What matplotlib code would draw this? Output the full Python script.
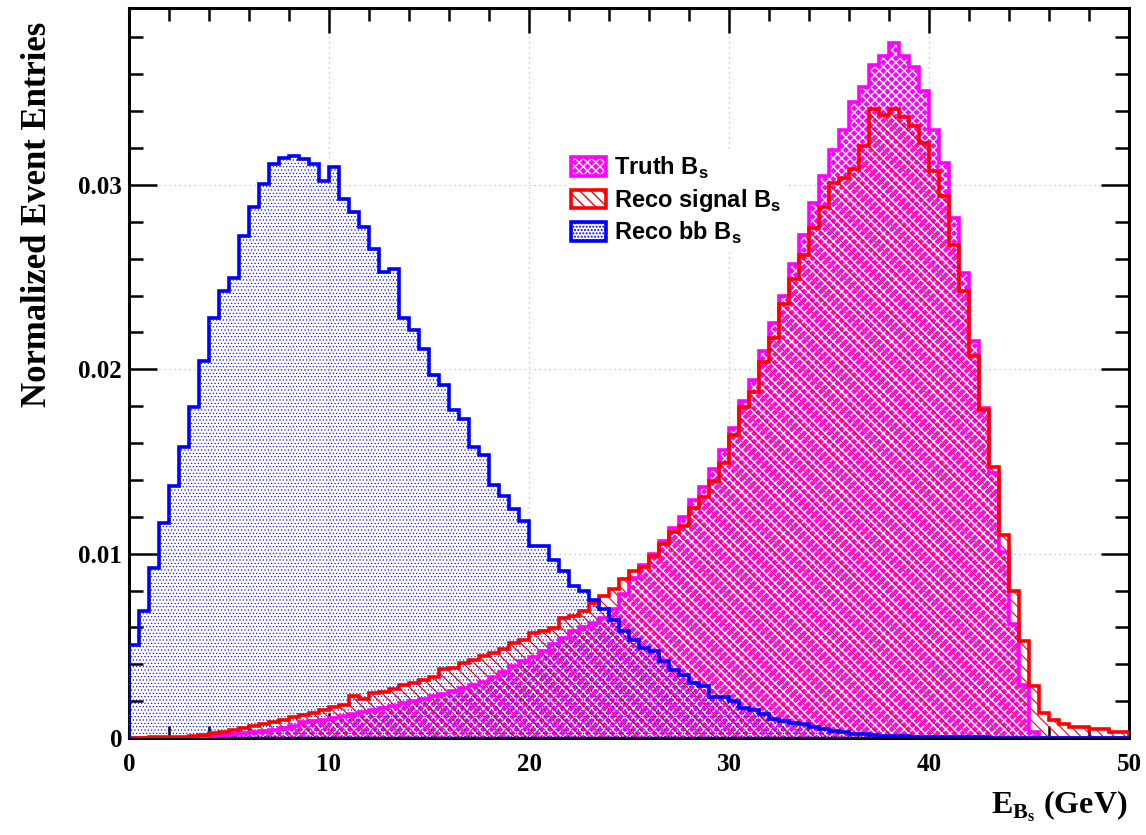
import numpy as np
import matplotlib
matplotlib.use("Agg")
import matplotlib.pyplot as plt
from matplotlib.patches import Patch
from matplotlib.legend_handler import HandlerTuple
from matplotlib.ticker import MultipleLocator, FuncFormatter

# 100 bins of 0.5 GeV between 0 and 50 GeV
bin_edges = np.linspace(0.0, 50.0, 101)

# Reco bb B_s
reco_bb = [0.00502, 0.00689, 0.00921, 0.01166, 0.01365, 0.01581, 0.01797, 0.02046, 0.02278, 0.02423,
           0.02494, 0.02722, 0.02878, 0.03004, 0.03116, 0.03145, 0.03158, 0.03141, 0.03112, 0.03021,
           0.03100, 0.02923, 0.02855, 0.02772, 0.02654, 0.02529, 0.02544, 0.02280, 0.02214, 0.02108,
           0.01969, 0.01913, 0.01782, 0.01730, 0.01581, 0.01533, 0.01373, 0.01311, 0.01243, 0.01176,
           0.01039, 0.01039, 0.00963, 0.00905, 0.00822, 0.00797, 0.00749, 0.00700, 0.00640, 0.00580,
           0.00530, 0.00490, 0.00470, 0.00420, 0.00370, 0.00340, 0.00300, 0.00280, 0.00225, 0.00220,
           0.00200, 0.00165, 0.00150, 0.00130, 0.00105, 0.00092, 0.00082, 0.00078, 0.00060, 0.00050,
           0.00040, 0.00030, 0.00022, 0.00020, 0.00016, 0.00013, 0.00010, 0.00009, 0.00008, 0.00006,
           0.00005, 0.00004, 0.00004, 0.00003, 0.00003, 0.00003, 0.00002, 0.00002, 0.00002, 0.00002,
           0.00001, 0.00001, 0.00001, 0.00001, 0.00001, 0.00001, 0.00001, 0.00001, 0.00001, 0.00001]

# Reco signal B_s
reco_signal = [0.00002, 0.00002, 0.00003, 0.00003, 0.00006, 0.00008, 0.00011, 0.00016, 0.00025, 0.00034,
               0.00043, 0.00053, 0.00065, 0.00076, 0.00089, 0.00098, 0.00112, 0.00125, 0.00134, 0.00152,
               0.00167, 0.00179, 0.00228, 0.00210, 0.00243, 0.00252, 0.00264, 0.00288, 0.00301, 0.00315,
               0.00333, 0.00373, 0.00379, 0.00406, 0.00424, 0.00446, 0.00460, 0.00484, 0.00514, 0.00533,
               0.00569, 0.00578, 0.00596, 0.00650, 0.00663, 0.00687, 0.00732, 0.00768, 0.00810, 0.00860,
               0.00905, 0.00930, 0.00988, 0.01055, 0.01115, 0.01150, 0.01250, 0.01305, 0.01395, 0.01490,
               0.01646, 0.01793, 0.01878, 0.02037, 0.02171, 0.02354, 0.02488, 0.02622, 0.02768, 0.02878,
               0.03012, 0.03040, 0.03088, 0.03211, 0.03412, 0.03382, 0.03412, 0.03370, 0.03321, 0.03230,
               0.03076, 0.02941, 0.02672, 0.02426, 0.02071, 0.01777, 0.01471, 0.01103, 0.00797, 0.00527,
               0.00282, 0.00135, 0.00098, 0.00074, 0.00061, 0.00061, 0.00049, 0.00049, 0.00035, 0.00032]

# Truth B_s
truth = [0.0, 0.0, 0.0, 0.0, 0.0, 0.0, 0.00003, 0.00006, 0.00010, 0.00014,
         0.00019, 0.00025, 0.00031, 0.00038, 0.00046, 0.00055, 0.00065, 0.00085, 0.00094, 0.00100,
         0.00108, 0.00118, 0.00128, 0.00140, 0.00152, 0.00163, 0.00175, 0.00190, 0.00203, 0.00214,
         0.00228, 0.00240, 0.00255, 0.00270, 0.00288, 0.00305, 0.00330, 0.00358, 0.00390, 0.00418,
         0.00442, 0.00470, 0.00510, 0.00540, 0.00580, 0.00600, 0.00625, 0.00650, 0.00700, 0.00780,
         0.00870, 0.00940, 0.01000, 0.01070, 0.01140, 0.01200, 0.01290, 0.01360, 0.01460, 0.01560,
         0.01680, 0.01830, 0.01940, 0.02100, 0.02250, 0.02400, 0.02570, 0.02730, 0.02900, 0.03050,
         0.03190, 0.03300, 0.03450, 0.03530, 0.03650, 0.03700, 0.03770, 0.03700, 0.03640, 0.03510,
         0.03300, 0.03120, 0.02820, 0.02525, 0.02152, 0.01790, 0.01440, 0.01010, 0.00620, 0.00290,
         0.00030, 0.0, 0.0, 0.0, 0.0, 0.0, 0.0, 0.0, 0.0, 0.0]

labels = ['Truth B$_\\mathregular{s}$', 'Reco signal B$_\\mathregular{s}$', 'Reco bb B$_\\mathregular{s}$']

plt.rcParams['mathtext.fontset'] = 'custom'
plt.rcParams['mathtext.rm'] = 'Liberation Serif:bold'
plt.rcParams['mathtext.bf'] = 'Liberation Serif:bold'

fig = plt.figure(figsize=(11.46, 8.35), dpi=100)
ax = fig.add_axes([129 / 1146, 97 / 835, 1000 / 1146, 730 / 835])

lw = 2.6
truth_hatch = 'xxxx'
signal_hatch = '\\\\\\'
bb_hatch = '.....'


def hatched(hlw, **kw):
    """Patch with its own hatch line width."""
    p = Patch(**kw)
    p.set_hatch_linewidth(hlw)
    return p


# truth: solid magenta with white weave
fill_truth = ax.stairs(truth, bin_edges, fill=True, facecolor='#ff00ff', edgecolor='white',
                       hatch=truth_hatch, linewidth=0, zorder=2)
fill_truth.set_hatch_linewidth(1.0)
ax.stairs(truth, bin_edges, color='#ff00ff', linewidth=lw, zorder=4)

# reco signal: red diagonal hatch
fill_sig = ax.stairs(reco_signal, bin_edges, fill=True, facecolor='none', edgecolor='red',
                     hatch=signal_hatch, linewidth=0, zorder=3)
fill_sig.set_hatch_linewidth(0.8)
ax.stairs(reco_signal, bin_edges, color='red', linewidth=lw, zorder=5)

# reco bb: fine blue dots
fill_bb = ax.stairs(reco_bb, bin_edges, fill=True, facecolor='none', edgecolor='blue',
                    hatch=bb_hatch, linewidth=0, zorder=3.5)
fill_bb.set_hatch_linewidth(0.45)
ax.stairs(reco_bb, bin_edges, color='blue', linewidth=lw, zorder=6)

ax.set_xlim(0, 50)
ax.set_ylim(0, 0.0396)

serif_bold = dict(family='Liberation Serif', weight='bold')

ax.xaxis.set_major_locator(MultipleLocator(10))
ax.xaxis.set_minor_locator(MultipleLocator(2))
ax.yaxis.set_major_locator(MultipleLocator(0.01))
ax.yaxis.set_minor_locator(MultipleLocator(0.002))
ax.yaxis.set_major_formatter(FuncFormatter(lambda v, p: '0' if abs(v) < 1e-9 else '%.2f' % v))
ax.xaxis.set_major_formatter(FuncFormatter(lambda v, p: '%d' % v))

ax.tick_params(which='both', direction='in', top=True, right=True, width=1.8, color='black')
ax.tick_params(axis='y', which='major', length=20, pad=5)
ax.tick_params(axis='y', which='minor', length=10)
ax.tick_params(axis='x', which='major', length=18, pad=11)
ax.tick_params(axis='x', which='minor', length=9)
for lab in ax.get_xticklabels() + ax.get_yticklabels():
    lab.set_fontfamily('Liberation Serif')
    lab.set_fontweight('bold')
    lab.set_fontsize(18)

for sp in ax.spines.values():
    sp.set_linewidth(2.2)

ax.grid(True, which='major', linestyle=(0, (1, 3)), color='#bbbbbb', linewidth=0.9)
ax.set_axisbelow(True)

fig.text(38 / 1146, 1 - 214 / 835, 'Normalized Event Entries', rotation=90,
         ha='center', va='center', fontsize=25, **serif_bold)
fig.text(1127 / 1146, 1 - 806 / 835, 'E$_{\\mathregular{B_s}}$ (GeV)',
         ha='right', va='center', fontsize=23, **serif_bold)

# legend entries: hatch layer with the coloured border on top
h_truth = (hatched(1.0, facecolor='#ff00ff', edgecolor='white', hatch=truth_hatch, linewidth=0),
           Patch(facecolor='none', edgecolor='#ff00ff', linewidth=lw))
h_sig = (hatched(0.8, facecolor='white', edgecolor='red', hatch=signal_hatch, linewidth=0),
         Patch(facecolor='none', edgecolor='red', linewidth=lw))
h_bb = (hatched(0.45, facecolor='white', edgecolor='blue', hatch=bb_hatch, linewidth=0),
        Patch(facecolor='none', edgecolor='blue', linewidth=lw))

leg = ax.legend([h_truth, h_sig, h_bb], labels,
                handler_map={tuple: HandlerTuple(ndivide=1, pad=0)},
                loc='upper left', bbox_to_anchor=(566 / 1146, 1 - 150 / 835),
                bbox_transform=fig.transFigure, borderaxespad=0, borderpad=0.2,
                frameon=True, fancybox=False, framealpha=1.0,
                handlelength=1.5, handleheight=0.8, handletextpad=0.35,
                labelspacing=0.25,
                prop=dict(family='Liberation Sans', weight='bold', size=17))
leg.get_frame().set_edgecolor('none')
leg.get_frame().set_facecolor('white')
leg.set_zorder(10)

fig.savefig('out.png', dpi=100)
